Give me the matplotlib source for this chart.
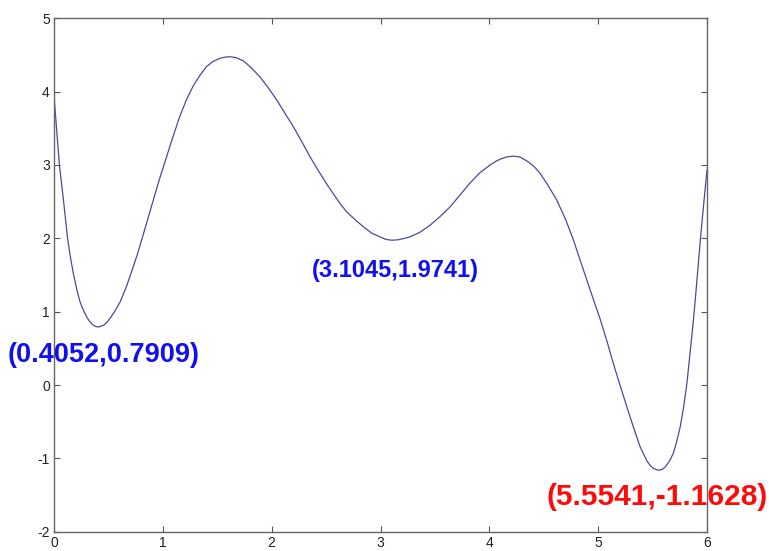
import matplotlib
matplotlib.use("Agg")
import matplotlib.pyplot as plt

plt.rcParams['font.family'] = ['Liberation Sans', 'DejaVu Sans']
plt.rcParams['axes.unicode_minus'] = False

# curve points
xs = [0.0, 0.025, 0.05, 0.085, 0.125, 0.15, 0.178, 0.21, 0.24, 0.27, 0.30,
      0.325, 0.35, 0.38, 0.4052, 0.43, 0.46, 0.49, 0.52, 0.56, 0.607, 0.66,
      0.714, 0.77, 0.82, 0.875, 0.928, 0.974, 1.03, 1.066, 1.11, 1.158, 1.22,
      1.28, 1.34, 1.40, 1.46, 1.526, 1.57, 1.618, 1.67, 1.74, 1.81, 1.893,
      1.97, 2.047, 2.12, 2.20, 2.28, 2.353, 2.43, 2.506, 2.57, 2.63, 2.69,
      2.77, 2.843, 2.92, 2.996, 3.05, 3.1045, 3.16, 3.22, 3.27, 3.36, 3.456,
      3.55, 3.64, 3.73, 3.82, 3.91, 4.007, 4.06, 4.10, 4.16, 4.22, 4.28, 4.35,
      4.41, 4.467, 4.54, 4.62, 4.70, 4.773, 4.835, 4.896, 4.96, 5.018, 5.08,
      5.14, 5.20, 5.264, 5.325, 5.386, 5.42, 5.45, 5.48, 5.51, 5.5541, 5.59,
      5.62, 5.66, 5.69, 5.72, 5.755, 5.785, 5.815, 5.845, 5.876, 5.90, 5.92,
      5.94, 5.96, 5.98, 6.0]
ys = [3.95, 3.47, 3.0, 2.55, 2.0, 1.75, 1.52, 1.30, 1.13, 1.02, 0.93,
      0.87, 0.83, 0.80, 0.7909, 0.80, 0.82, 0.86, 0.92, 1.01, 1.13, 1.32,
      1.55, 1.80, 2.05, 2.33, 2.60, 2.83, 3.09, 3.26, 3.46, 3.67, 3.90,
      4.08, 4.22, 4.34, 4.41, 4.455, 4.47, 4.476, 4.465, 4.42, 4.33, 4.20,
      4.05, 3.885, 3.71, 3.52, 3.31, 3.11, 2.92, 2.74, 2.60, 2.47, 2.36,
      2.25, 2.157, 2.07, 2.02, 1.985, 1.9741, 1.98, 2.0, 2.02, 2.08, 2.18,
      2.30, 2.43, 2.59, 2.75, 2.89, 3.0, 3.05, 3.08, 3.11, 3.12, 3.11, 3.05,
      2.98, 2.885, 2.72, 2.52, 2.26, 1.975, 1.70, 1.43, 1.15, 0.90, 0.60,
      0.29, 0.0, -0.30, -0.58, -0.845, -0.95, -1.04, -1.10, -1.14, -1.1628, -1.15,
      -1.11, -1.026, -0.93, -0.78, -0.56, -0.30, 0.02, 0.45, 0.90, 1.30, 1.65,
      2.0, 2.32, 2.63, 2.93]

# local minima annotated in the reference
min_x = [0.4052, 3.1045, 5.5541]
min_y = [0.7909, 1.9741, -1.1628]
label_colors = ['#1010f0', '#1010f0', '#ff0a0a']

x_ticks = [0, 1, 2, 3, 4, 5, 6]
y_ticks = [-2, -1, 0, 1, 2, 3, 4, 5]

fig = plt.figure(figsize=(7.69, 5.51), dpi=100)
ax = fig.add_axes([0.0702, 0.035, 0.8492, 0.9318])
ax.plot(xs, ys, color='#4a4a9c', lw=0.9)
ax.set_xlim(0, 6)
ax.set_ylim(-2, 5)
ax.set_xticks(x_ticks)
ax.set_yticks(y_ticks)
ax.tick_params(direction='in', length=4, width=0.8, colors='#555555',
               labelcolor='#222222', labelsize=10, top=True, right=True, pad=3)
for s in ax.spines.values():
    s.set_color('#666666')
    s.set_linewidth(1.0)

# label placement (offsets in data units) and sizes
offsets = [(-0.828, -0.384), (-0.737, -0.408), (-1.026, -0.364)]
sizes = [19.5, 17, 21.5]
for mx, my, c, (dx, dy), fs in zip(min_x, min_y, label_colors, offsets, sizes):
    ax.text(mx + dx, my + dy, f"({mx:.4f},{my:.4f})", color=c, fontsize=fs,
            fontweight='bold', ha='left', va='center', clip_on=False)

fig.savefig('out.png', dpi=100)
